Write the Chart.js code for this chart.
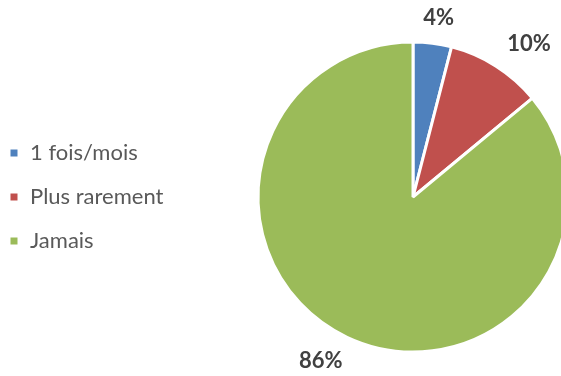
<!DOCTYPE html>
<html>
<head>
<meta charset="utf-8">
<script src="https://cdn.jsdelivr.net/npm/chart.js@4/dist/chart.umd.min.js"></script>
<style>
  html, body { margin: 0; padding: 0; background: #fff; }
  #wrap { position: relative; width: 561px; height: 376px; overflow: hidden; }
  #wrap canvas { position: absolute; left: 0; top: 0; }
</style>
</head>
<body>
<div id="wrap"><canvas id="c" width="700" height="376" style="width:700px;height:376px"></canvas></div>
<script>
// Fréquence d'utilisation
const categories = ['1 fois/mois', 'Plus rarement', 'Jamais'];
const shares = [4, 10, 86];
const valueLabels = ['4%', '10%', '86%'];
const sliceColors = ['#4F81BD', '#C0504D', '#9BBB59'];

const FONT = 'Lato, "Open Sans", "Liberation Sans", sans-serif';
const PIE_CENTER_X = 413;

// Percent labels placed just outside each slice
const outsideLabels = {
  id: 'outsideLabels',
  afterDatasetsDraw(chart) {
    const ctx = chart.ctx;
    const meta = chart.getDatasetMeta(0);
    ctx.save();
    ctx.font = 'bold 22px ' + FONT;
    ctx.fillStyle = '#404040';
    ctx.textAlign = 'center';
    ctx.textBaseline = 'middle';
    meta.data.forEach((arc, i) => {
      const p = arc.getProps(['x', 'y', 'startAngle', 'endAngle', 'outerRadius'], true);
      const mid = (p.startAngle + p.endAngle) / 2;
      const dx = Math.cos(mid), dy = Math.sin(mid);
      const txt = valueLabels[i];
      const w = ctx.measureText(txt).width;
      const h = 16;
      const gap = 18;
      const lx = p.x + dx * (p.outerRadius + gap) + dx * w;
      const ly = p.y + dy * (p.outerRadius + gap) + dy * h / 2;
      ctx.fillText(txt, lx, ly);
    });
    ctx.restore();
  }
};

const chart = new Chart(document.getElementById('c'), {
  type: 'pie',
  data: {
    labels: categories,
    datasets: [{
      data: shares,
      backgroundColor: sliceColors,
      borderColor: '#ffffff',
      borderWidth: 3,
      radius: 155
    }]
  },
  options: {
    responsive: false,
    animation: false,
    layout: { padding: { left: -13, right: 0, top: 20, bottom: 2 } },
    plugins: {
      legend: {
        position: 'left',
        labels: {
          font: { family: FONT, size: 22 },
          color: '#595959',
          boxWidth: 10,
          boxHeight: 10,
          padding: 22
        }
      },
      tooltip: { enabled: false }
    }
  },
  plugins: [outsideLabels]
});

// Shift the plot area so the pie sits at the intended horizontal position
const left = chart.chartArea.left;
chart.options.layout.padding.right = chart.width - (2 * PIE_CENTER_X - left);
chart.update('none');
</script>
</body>
</html>
